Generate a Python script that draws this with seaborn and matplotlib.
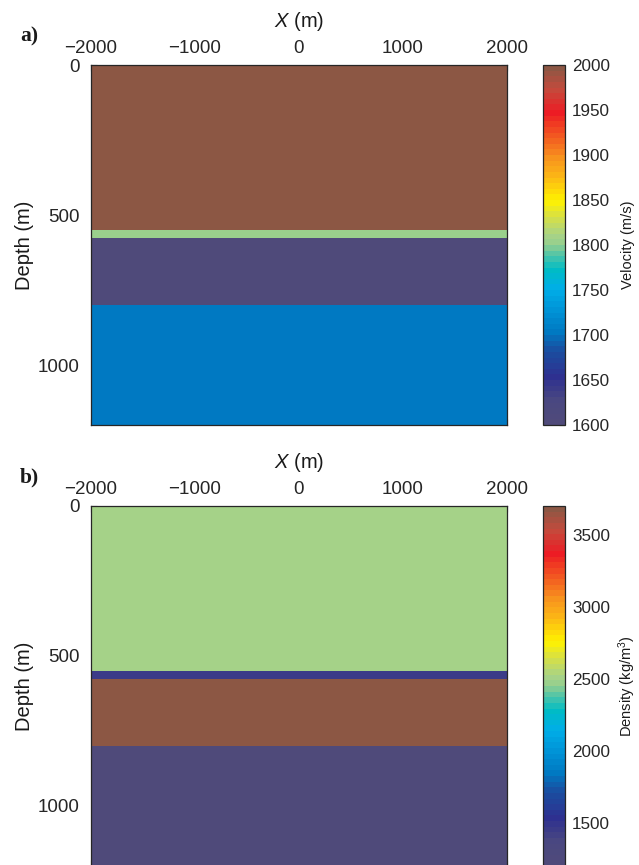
import numpy as np
import pandas as pd
import matplotlib
matplotlib.use("Agg")
import matplotlib.pyplot as plt
import seaborn as sns
from matplotlib.colors import LinearSegmentedColormap, ListedColormap

# layered model (depth in m)
layer_top = [0, 550, 575, 800]
layer_bottom = [550, 575, 800, 1200]
velocity = [2000, 1800, 1600, 1700]      # m/s
density = [2500, 1450, 3700, 1200]       # kg/m3

x_ticks = [-2000, -1000, 0, 1000, 2000]
depth_ticks = [0, 500, 1000]
vel_ticks = [1600, 1650, 1700, 1750, 1800, 1850, 1900, 1950, 2000]
den_ticks = [1500, 2000, 2500, 3000, 3500]
vel_lim = (1600, 2000)
den_lim = (1200, 3700)

sns.set_style("ticks")
plt.rcParams['font.family'] = ['Liberation Sans', 'DejaVu Sans']
plt.rcParams['mathtext.fontset'] = 'custom'
plt.rcParams['mathtext.it'] = 'Liberation Sans:italic'
plt.rcParams['mathtext.rm'] = 'Liberation Sans'
plt.rcParams['text.color'] = '#1a1a1a'
plt.rcParams['axes.labelcolor'] = '#1a1a1a'
plt.rcParams['xtick.color'] = '#262626'
plt.rcParams['ytick.color'] = '#262626'

# colour map
stops = [(0.0, '#4f4a7a'), (0.06, '#4a4880'), (0.125, '#2e3090'), (0.2, '#1a4ea0'),
         (0.25, '#0077c0'), (0.33, '#0099db'), (0.375, '#00aee8'), (0.43, '#00bcc4'),
         (0.47, '#50c4a8'), (0.5, '#93cf8f'), (0.53, '#a8d387'), (0.58, '#d6e046'),
         (0.625, '#fff200'), (0.7, '#fbb117'), (0.75, '#f7901e'), (0.875, '#ed1c24'),
         (0.94, '#c44a3c'), (1.0, '#8c5744')]
base = LinearSegmentedColormap.from_list('model', stops)
cmap = ListedColormap(base(np.linspace(0, 1, 64)))

dz = 25
dx = 1000
z_centers = np.arange(0, 1200, dz) + dz / 2
x_centers = np.arange(-2000, 2000, dx) + dx / 2


def model_grid(values):
    col = np.zeros(len(z_centers))
    for top, bot, v in zip(layer_top, layer_bottom, values):
        col[(z_centers >= top) & (z_centers < bot)] = v
    return pd.DataFrame(np.repeat(col[:, None], len(x_centers), axis=1),
                        index=z_centers, columns=x_centers)


fig = plt.figure(figsize=(6.39, 8.65), dpi=100)
W, H = 639, 865
panels = [
    ('a)', velocity, vel_lim, vel_ticks, 'Velocity (m/s)', 65, 8),
    ('b)', density, den_lim, den_ticks, 'Density (kg/m$^3$)', 506, 5),
]

for tag, vals, lim, cticks, clabel, top_px, cpad in panels:
    ax = fig.add_axes([91 / W, 1 - (top_px + 360) / H, 416 / W, 360 / H])
    cax = fig.add_axes([543 / W, 1 - (top_px + 360) / H, 22 / W, 360 / H])
    grid = model_grid(vals)
    sns.heatmap(grid, ax=ax, cmap=cmap, vmin=lim[0], vmax=lim[1], cbar_ax=cax,
                xticklabels=False, yticklabels=False, linewidths=0, rasterized=True)
    for s in ax.spines.values():
        s.set_visible(True)
        s.set_color('#262626')
        s.set_linewidth(0.9)
    ax.set_xticks([(x + 2000) / dx for x in x_ticks])
    ax.set_xticklabels([str(x).replace('-', '\u2212') for x in x_ticks])
    ax.set_yticks([d / dz for d in depth_ticks])
    ax.set_yticklabels([str(d) for d in depth_ticks], rotation=0)
    ax.xaxis.tick_top()
    ax.xaxis.set_label_position('top')
    ax.tick_params(axis='both', direction='in', length=4, width=0.8, labelsize=13.5,
                   pad=8, top=True, bottom=True, left=True, right=True,
                   labeltop=True, labelbottom=False)
    ax.tick_params(axis='x', pad=6)
    ax.set_xlabel('$X$ (m)', fontsize=14.5, labelpad=9)
    ax.set_ylabel('Depth (m)', fontsize=14.5, labelpad=3)

    cbar = ax.collections[0].colorbar
    cbar.set_ticks(cticks)
    cbar.set_ticklabels([str(t) for t in cticks])
    cbar.ax.tick_params(direction='in', length=4, width=0.8, labelsize=12.3, pad=5)
    cbar.outline.set_edgecolor('#262626')
    cbar.outline.set_linewidth(0.9)
    cbar.set_label(clabel, fontsize=10.5, labelpad=cpad)

    fig.text(20 / W, 1 - (top_px - 29) / H, tag, family='Liberation Serif',
             fontweight='bold', fontsize=15.5, va='center', ha='left')

fig.savefig('out.png', dpi=100)
